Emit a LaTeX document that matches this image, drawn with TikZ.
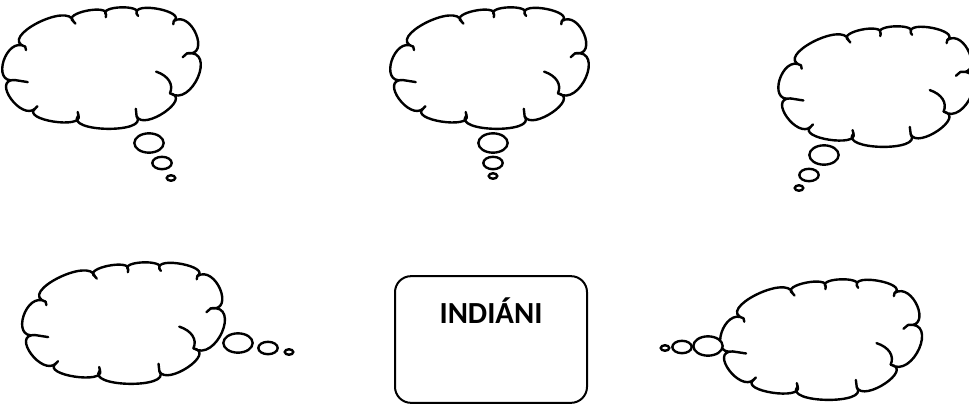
\documentclass[tikz,border=0pt]{standalone}
\usepackage{fontspec}
\setmainfont{Carlito}
\usetikzlibrary{shapes.geometric,calc}
\tikzset{
  cloudline/.style={draw=black,line width=1.8pt,fill=white,line join=round},
  tailline/.style={draw=black,line width=1.8pt,line cap=round},
  bub/.style={ellipse,draw=black,line width=1.8pt,fill=white,inner sep=0pt},
  bigbub/.style={bub,minimum width=22pt,minimum height=14.5pt},
  midbub/.style={bub,minimum width=14.5pt,minimum height=9.3pt},
  smallbub/.style={bub,minimum width=6.4pt,minimum height=4.1pt},
  tribebox/.style={draw=black,line width=1.5pt,rounded corners=12pt,minimum width=144pt,minimum height=95pt},
  tribefont/.style={font=\fontsize{23}{28}\selectfont\bfseries,anchor=base,inner sep=0pt}
}
% one puff of the cloud, bulging outwards
\newcommand{\puff}[2]{.. controls ($(#1)!0.5!118:(#2)$) and ($(#2)!0.5!-118:(#1)$) .. (#2)}
\newcommand{\thought}[4]{%
\begin{scope}[shift={(#1,#2)},xscale=#3,yscale=#4]
\coordinate (pa) at (0.096,0.338);
\coordinate (pb) at (0.351,0.143);
\coordinate (pc) at (0.523,0.091);
\coordinate (pd) at (0.684,0.083);
\coordinate (pe) at (0.880,0.140);
\coordinate (pf) at (0.950,0.390);
\coordinate (pg) at (0.860,0.700);
\coordinate (ph) at (0.684,0.878);
\coordinate (pi) at (0.377,0.870);
\coordinate (pj) at (0.149,0.818);
\coordinate (pk) at (0.040,0.597);
\draw[cloudline] (pa) \puff{pa}{pb} \puff{pb}{pc} \puff{pc}{pd} \puff{pd}{pe} \puff{pe}{pf}
  \puff{pf}{pg} \puff{pg}{ph} \puff{ph}{pi} \puff{pi}{pj} \puff{pj}{pk} \puff{pk}{pa} -- cycle;
\draw[tailline] (pk) -- (0.109,0.613)
  (pg) to[bend right=40] (0.785,0.532)
  (ph) -- (0.678,0.820)
  (pi) -- (0.372,0.845)
  (pj) -- (0.160,0.800)
  (pf) -- (0.925,0.420)
  (pa) -- (0.100,0.365)
  (pb) -- (0.360,0.160)
  (pc) -- (0.520,0.110)
  (pd) -- (0.690,0.100)
  (pe) -- (0.875,0.165);
\end{scope}}

\begin{document}
\begin{tikzpicture}[x=0.75pt,y=-0.75pt]
\useasboundingbox (0,0) rectangle (969,407);
% clouds
\thought{7}{3}{190}{129}
\thought{395}{3}{190}{129}
\thought{783}{22}{187}{128}
\thought{27}{258}{194}{129}
\thought{725}{275}{193}{128}
% bubbles
\node[bigbub] (t1a) at (149,143) {};
\node[midbub] (t1b) at (162,163) {};
\node[smallbub] (t1c) at (171,178) {};
\node[bigbub] (t2a) at (493,143) {};
\node[midbub] (t2b) at (493,163) {};
\node[smallbub] (t2c) at (493,176) {};
\node[bigbub] (t3a) at (824,155) {};
\node[midbub] (t3b) at (809,175) {};
\node[smallbub] (t3c) at (799,188) {};
\node[bigbub] (t4a) at (238,343) {};
\node[midbub] (t4b) at (268,348) {};
\node[smallbub] (t4c) at (289,352) {};
\node[bigbub] (t5a) at (708,346) {};
\node[midbub] (t5b) at (682,347) {};
\node[smallbub] (t5c) at (665,348) {};
% tribe
\node[tribebox] (tribe) at (491,339.5) {};
\node[tribefont] (tribename) at (491,323) {INDIÁNI};
\end{tikzpicture}
\end{document}
